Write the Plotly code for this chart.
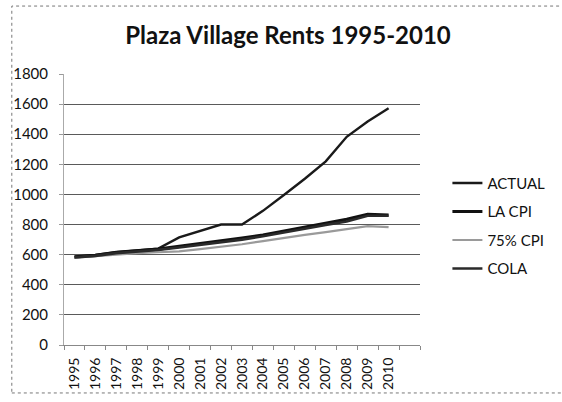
import plotly.graph_objects as go

years = [str(y) for y in range(1995, 2011)]
actual = [585, 598, 618, 628, 640, 715, 757, 800, 800, 891, 996, 1104, 1220, 1383, 1485, 1572]
la_cpi = [585, 595, 614, 624, 637, 655, 672, 690, 710, 730, 755, 780, 805, 835, 868, 862]
cpi75 = [580, 590, 602, 610, 616, 622, 637, 652, 669, 690, 712, 732, 750, 768, 790, 783]
cola = [582, 592, 610, 620, 632, 648, 665, 682, 700, 722, 745, 772, 798, 820, 858, 858]
y_ticks = [0, 200, 400, 600, 800, 1000, 1200, 1400, 1600, 1800]

xi = list(range(len(years)))
series = [
    ("ACTUAL", actual, "#1a1a1a", 2.4),
    ("LA CPI", la_cpi, "#111111", 3.2),
    ("75% CPI", cpi75, "#9a9a9a", 2.2),
    ("COLA", cola, "#2a2a2a", 2.6),
]

fig = go.Figure()
for i, (name, vals, col, w) in enumerate(series):
    fig.add_trace(go.Scatter(x=xi, y=vals, mode="lines", name=name,
                             legendgroup=f"g{i}",
                             line=dict(color=col, width=w)))

fig.update_layout(
    width=562, height=402,
    margin=dict(l=64, r=113, t=74, b=53),
    paper_bgcolor="white", plot_bgcolor="white",
    font=dict(family="Lato, Open Sans, sans-serif", color="#111"),
    title=dict(text="Plaza Village Rents 1995-2010", x=0.5125, xanchor="center",
               y=0.912, yanchor="middle",
               font=dict(family="Lato", size=24, color="#111", weight="bold")),
    showlegend=True,
    legend=dict(x=1.077, xanchor="left", y=0.44, yanchor="middle",
                font=dict(size=15, color="#111"), tracegroupgap=6,
                bgcolor="rgba(0,0,0,0)"),
    xaxis=dict(range=[-0.5, 16.5], tickmode="array", tickvals=xi, ticktext=years,
               tickangle=-90, tickfont=dict(size=14), ticks="", showgrid=False,
               ticklabelstandoff=6,
               zeroline=False, showline=True, linecolor="#888", linewidth=1,
               minor=dict(tickmode="array", tickvals=[v - 0.5 for v in range(18)],
                          ticks="outside", ticklen=4, tickcolor="#888", showgrid=False)),
    yaxis=dict(range=[0, 1800], tickmode="array", tickvals=y_ticks,
               tickfont=dict(size=15), ticks="outside", ticklen=4, tickcolor="#999",
               ticklabelstandoff=8,
               showgrid=True, gridcolor="#5a5a5a", gridwidth=1, zeroline=False,
               showline=True, linecolor="#aaa", linewidth=1),
    shapes=[dict(type="rect", xref="paper", yref="paper",
                 x0=-0.1466, x1=2.0, y0=-0.177, y1=1.2507,
                 line=dict(color="#777", width=1, dash="dot"))],
)

fig.write_html("out.html", config={"displayModeBar": False},
               post_script="document.body.style.margin='0';")
